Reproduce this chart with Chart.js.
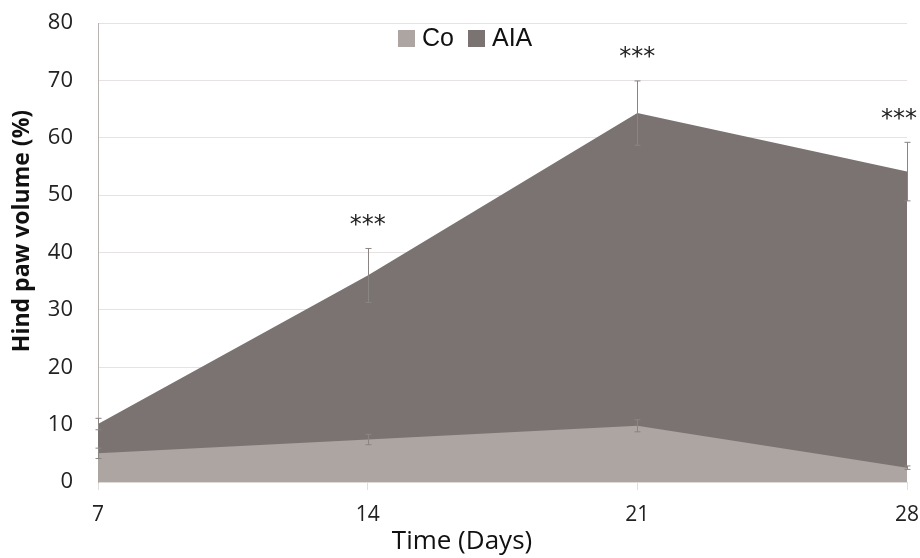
<!DOCTYPE html>
<html>
<head>
<meta charset="utf-8">
<script src="https://cdn.jsdelivr.net/npm/chart.js@4.4.1/dist/chart.umd.min.js"></script>
<style>
  html, body { margin: 0; padding: 0; background: #fff; }
  #wrap { width: 920px; height: 558px; position: relative; }
</style>
</head>
<body>
<div id="wrap"><canvas id="grafico"></canvas></div>
<script>
// Dados
const dias = ["7", "14", "21", "28"];
const coValores = [5.0, 7.4, 9.8, 2.5];
const coErros = [0.9, 0.9, 1.05, 0.3];
const aiaValores = [10.1, 36.0, 64.3, 54.1];
const aiaErros = [1.0, 4.7, 5.6, 5.1];
const asteriscos = ["", "***", "***", "***"];
const yTicks = [0, 10, 20, 30, 40, 50, 60, 70, 80];

const corCo = "#aca5a1";
const corAIA = "#7b7371";

// barras de erro, asteriscos, legenda e titulos dos eixos
const extras = {
    id: "extras",
    afterDatasetsDraw(chart) {
        const ctx = chart.ctx;
        const x = chart.scales.x;
        const y = chart.scales.y;
        const series = [[coValores, coErros], [aiaValores, aiaErros]];

        ctx.save();
        ctx.strokeStyle = "#8a8483";
        ctx.lineWidth = 1;
        series.forEach(([vals, errs]) => {
            vals.forEach((v, i) => {
                const px = Math.round(x.getPixelForValue(i)) + 0.5;
                const top = y.getPixelForValue(v + errs[i]);
                const bot = y.getPixelForValue(v - errs[i]);
                ctx.beginPath();
                ctx.moveTo(px, top); ctx.lineTo(px, bot);
                ctx.moveTo(px - 3, top); ctx.lineTo(px + 3, top);
                ctx.moveTo(px - 3, bot); ctx.lineTo(px + 3, bot);
                ctx.stroke();
            });
        });

        // asteriscos
        ctx.fillStyle = "#222";
        ctx.font = "24px 'DejaVu Sans'";
        ctx.textAlign = "center";
        ctx.textBaseline = "middle";
        asteriscos.forEach((s, i) => {
            if (!s) return;
            const w = ctx.measureText(s).width;
            let px = x.getPixelForValue(i);
            px = Math.min(px, chart.width - w / 2 - 3);
            const py = y.getPixelForValue(aiaValores[i] + aiaErros[i]) - 23;
            ctx.fillText(s, px, py);
        });

        // legenda
        ctx.font = "25px 'Liberation Sans'";
        ctx.textAlign = "left";
        ctx.textBaseline = "middle";
        const itens = [["Co", corCo, 398], ["AIA", corAIA, 468]];
        itens.forEach(([txt, cor, lx]) => {
            ctx.fillStyle = cor;
            ctx.fillRect(lx, 30, 17, 17);
            ctx.fillStyle = "#111";
            ctx.fillText(txt, lx + 24, 39);
        });

        // titulos
        ctx.fillStyle = "#111";
        ctx.font = "26px 'Open Sans'";
        ctx.textAlign = "center";
        ctx.textBaseline = "middle";
        ctx.fillText("Time (Days)", 462, 542);

        ctx.translate(22, 231);
        ctx.rotate(-Math.PI / 2);
        ctx.font = "bold 23px 'Open Sans'";
        ctx.fillText("Hind paw volume (%)", 0, 0);
        ctx.restore();
    }
};

new Chart(document.getElementById("grafico"), {
    type: "line",
    data: {
        labels: dias,
        datasets: [
            {
                label: "Co",
                data: coValores,
                backgroundColor: corCo,
                borderColor: corCo,
                borderWidth: 0,
                pointRadius: 0,
                fill: "origin",
                tension: 0
            },
            {
                label: "AIA",
                data: aiaValores,
                backgroundColor: corAIA,
                borderColor: corAIA,
                borderWidth: 0,
                pointRadius: 0,
                fill: "origin",
                tension: 0
            }
        ]
    },
    options: {
        responsive: true,
        maintainAspectRatio: false,
        animation: false,
        layout: { padding: { top: 23, right: 13, left: 0, bottom: 0 } },
        plugins: {
            legend: { display: false },
            tooltip: { enabled: false }
        },
        scales: {
            x: {
                offset: false,
                afterFit: (s) => {
                    s.height = 76;
                    s.paddingLeft = 0;
                    s.paddingRight = 0;
                },
                grid: {
                    drawOnChartArea: false,
                    drawTicks: true,
                    tickLength: 8,
                    color: "#e2dede"
                },
                border: { color: "#dedada", width: 1 },
                ticks: {
                    color: "#222",
                    font: { family: "Open Sans", size: 21 },
                    padding: 12,
                    maxRotation: 0
                }
            },
            y: {
                min: 0,
                max: 80,
                afterFit: (s) => {
                    s.width = 98;
                    s.paddingTop = 0;
                    s.paddingBottom = 0;
                },
                afterBuildTicks: (s) => { s.ticks = yTicks.map(v => ({ value: v })); },
                grid: { color: "#e6e2e2", drawTicks: false },
                border: { color: "#b8b2b0", width: 1 },
                ticks: {
                    color: "#222",
                    font: { family: "Open Sans", size: 22 },
                    padding: 25
                }
            }
        }
    },
    plugins: [extras]
});
</script>
</body>
</html>
